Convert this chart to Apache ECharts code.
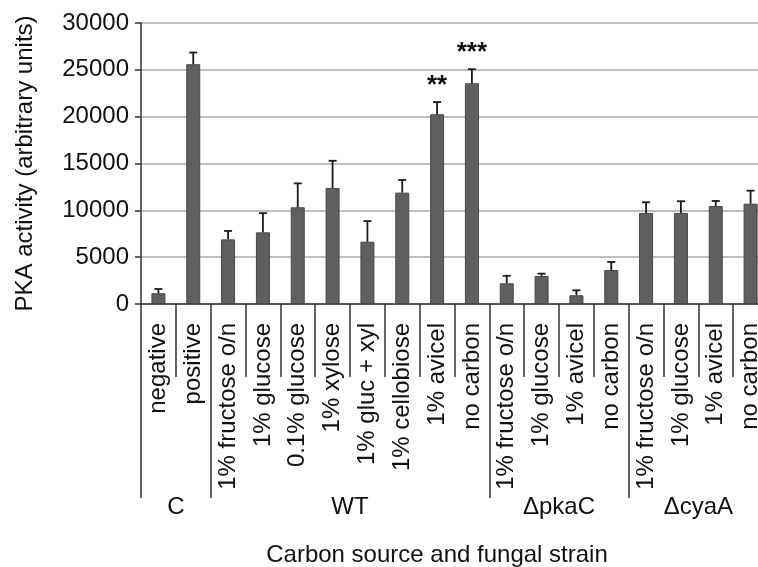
<!DOCTYPE html>
<html>
<head>
<meta charset="utf-8">
<script src="https://cdn.jsdelivr.net/npm/echarts@6/dist/echarts.min.js"></script>
<style>html,body{margin:0;padding:0;background:#fff;}#c{width:758px;height:567px;}</style>
</head>
<body>
<div id="c"></div>
<script>
const categories = ['negative','positive','1% fructose o/n','1% glucose','0.1% glucose','1% xylose','1% gluc + xyl','1% cellobiose','1% avicel','no carbon','1% fructose o/n','1% glucose','1% avicel','no carbon','1% fructose o/n','1% glucose','1% avicel','no carbon'];
const means  = [1150, 25600, 6900, 7650, 10330, 12390, 6650, 11890, 20260, 23570, 2210, 2990, 930, 3630, 9720, 9720, 10470, 10710];
const errors = [450, 1250, 900, 2050, 2550, 2900, 2200, 1350, 1300, 1500, 800, 250, 530, 860, 1140, 1250, 530, 1390];
const stars  = ['', '', '', '', '', '', '', '', '**', '***', '', '', '', '', '', '', '', ''];
const groupNames = ['C', 'WT', '\u0394pkaC', '\u0394cyaA'];
const groupStarts = [0, 2, 10, 14];
const groupEnds = [2, 10, 14, 18];
const yTicks = [0, 5000, 10000, 15000, 20000, 25000, 30000];

const font = 'Liberation Sans, Arial, sans-serif';
const chart = echarts.init(document.getElementById('c'), null, {renderer: 'canvas'});

const groupLabelAt = {};
groupNames.forEach((g, i) => { groupLabelAt[(groupStarts[i] + groupEnds[i]) / 2] = g; });

const errData = categories.map((c, i) => [i, means[i], errors[i], i]);

chart.setOption({
  animation: false,
  backgroundColor: '#fff',
  title: {
    text: 'Carbon source and fungal strain',
    left: 432, top: 538, textAlign: 'center',
    textStyle: {fontFamily: font, fontSize: 24, fontWeight: 'normal', color: '#111'}
  },
  grid: {left: 141, top: 23, width: 627, height: 281, containLabel: false, outerBoundsMode: 'none'},
  xAxis: [
    {
      type: 'category', data: categories, position: 'bottom',
      axisLine: {lineStyle: {color: '#333', width: 1.5}},
      axisTick: {show: true, interval: 0, length: 73, lineStyle: {color: '#333', width: 1.5}},
      axisLabel: {interval: 0, rotate: 90, margin: 19, fontFamily: font, fontSize: 24, color: '#111'}
    },
    {
      type: 'category', data: categories, position: 'bottom',
      axisLine: {show: false},
      axisTick: {show: true, length: 194, interval: (i) => groupStarts.indexOf(i) >= 0, lineStyle: {color: '#333', width: 1.5}},
      axisLabel: {show: false}
    },
    {
      type: 'value', min: 0, max: categories.length, interval: 0.5, position: 'bottom',
      axisLine: {show: false}, axisTick: {show: false}, splitLine: {show: false},
      axisLabel: {
        margin: 191, fontFamily: font, fontSize: 24, color: '#111',
        formatter: (v) => groupLabelAt[v] || ''
      }
    }
  ],
  yAxis: {
    type: 'value', min: yTicks[0], max: yTicks[yTicks.length - 1], interval: yTicks[1] - yTicks[0],
    name: 'PKA activity (arbitrary units)', nameLocation: 'middle', nameGap: 104,
    nameTextStyle: {fontFamily: font, fontSize: 24, color: '#111'},
    axisLine: {show: true, lineStyle: {color: '#333', width: 1.5}},
    axisTick: {show: true, length: 6, lineStyle: {color: '#333', width: 1.5}},
    axisLabel: {margin: 12, fontFamily: font, fontSize: 24, color: '#111', formatter: (v) => String(v)},
    splitLine: {lineStyle: {color: '#a8a8a8', width: 1.5}}
  },
  series: [
    {
      type: 'bar', xAxisIndex: 0, data: means, barWidth: 14,
      itemStyle: {color: '#5f5f5f', borderColor: '#484848', borderWidth: 1}
    },
    {
      type: 'custom', xAxisIndex: 0, data: errData, clip: false, z: 5,
      encode: {x: 0, y: 1},
      renderItem: (params, api) => {
        const x = api.value(0), m = api.value(1), e = api.value(2), idx = api.value(3);
        const p0 = api.coord([x, m]);
        const p1 = api.coord([x, m + e]);
        const ls = {stroke: '#1a1a1a', lineWidth: 1.8};
        const children = [
          {type: 'line', shape: {x1: p0[0], y1: p0[1], x2: p1[0], y2: p1[1]}, style: ls},
          {type: 'line', shape: {x1: p1[0] - 4, y1: p1[1], x2: p1[0] + 4, y2: p1[1]}, style: ls}
        ];
        const s = stars[idx];
        if (s) {
          children.push({type: 'text', style: {text: s, x: p1[0], y: p1[1] - 3, align: 'center', verticalAlign: 'bottom', fontFamily: font, fontSize: 26, fontWeight: 'bold', fill: '#111'}});
        }
        return {type: 'group', children: children};
      }
    }
  ]
});
</script>
</body>
</html>
